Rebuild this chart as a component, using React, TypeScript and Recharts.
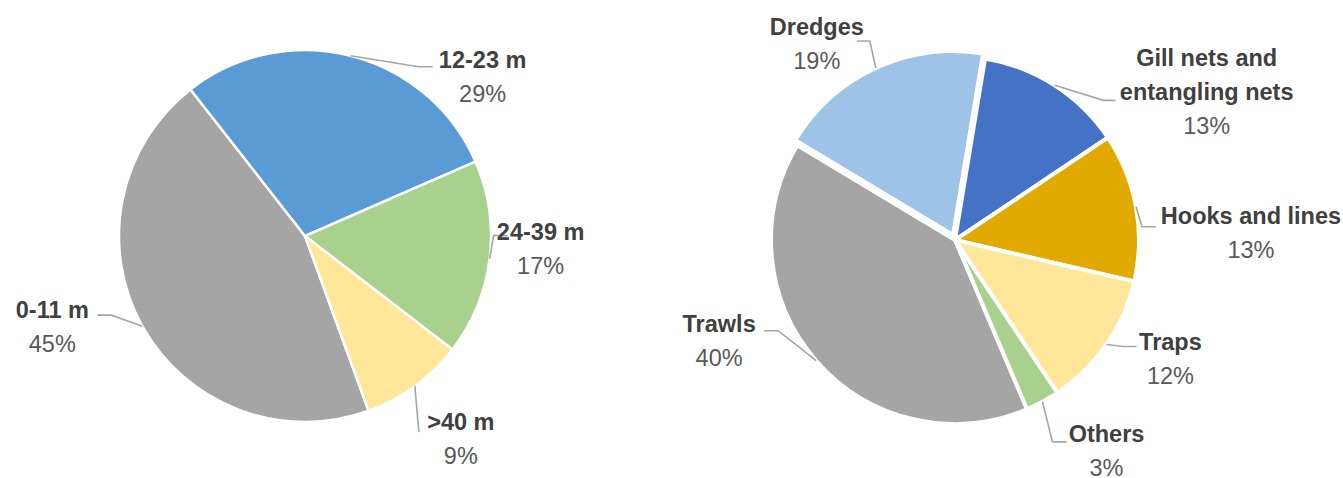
import { PieChart, Pie, Cell } from 'recharts';

// fleet by vessel length
const lengthClasses = ['0-11 m', '12-23 m', '24-39 m', '>40 m'];
const lengthShares = [45, 29, 17, 9];
const lengthColors = ['#A5A5A5', '#5B9BD5', '#A9D18E', '#FFE699'];

// fleet by main fishing gear
const gearTypes = ['Dredges', 'Gill nets and\nentangling nets', 'Hooks and lines', 'Traps', 'Others', 'Trawls'];
const gearShares = [19, 13, 13, 12, 3, 40];
const gearColors = ['#9DC3E6', '#4472C4', '#E2AA00', '#FFE699', '#A9D18E', '#A5A5A5'];

const lengthData = lengthClasses.map((name, i) => ({ name, value: lengthShares[i] }));
const gearData = gearTypes.map((name, i) => ({ name, value: gearShares[i] }));

// label placement relative to the point where the slice's mid angle meets the rim
// n = centre of first text line, e = end of leader line, elbow = horizontal bit of leader
const LABEL_POS: Record<string, { nx: number; ny: number; ex: number; ey: number; elbow: number }> = {
  '0-11 m': { nx: -90, ny: -16, ex: -45, ey: -11, elbow: -14 },
  '12-23 m': { nx: 132, ny: 4, ex: 82, ey: 11, elbow: 14 },
  '24-39 m': { nx: 51, ny: -27, ex: 18, ey: -23, elbow: 14 },
  '>40 m': { nx: 46, ny: 36, ex: 4, ey: 46, elbow: 0 },
  Dredges: { nx: -59, ny: -41, ex: -19, ey: -27, elbow: -13 },
  'Gill nets and\nentangling nets': { nx: 152, ny: -27, ex: 61, ey: 15, elbow: 12 },
  'Hooks and lines': { nx: 115, ny: 9, ex: 20, ey: 20, elbow: 14 },
  Traps: { nx: 64, ny: -2, ex: 30, ey: 2, elbow: 13 },
  Others: { nx: 64, ny: 32, ex: 24, ey: 40, elbow: 14 },
  Trawls: { nx: -97, ny: -37, ex: -52, ey: -30, elbow: -14 },
};

const FONT = '"Liberation Sans", Arial, sans-serif';
const LINE_H = 34;
const RAD = Math.PI / 180;
const EXPLODED = 'Dredges';

function makeLabel(show: (name: string) => boolean) {
  return (p: any) => {
    const name: string = p.payload?.name ?? p.name;
    if (!show(name)) return null;
    const pos = LABEL_POS[name];
    if (!pos) return null;
    const ax = p.cx + p.outerRadius * Math.cos(-p.midAngle * RAD);
    const ay = p.cy + p.outerRadius * Math.sin(-p.midAngle * RAD);
    const ex = ax + pos.ex;
    const ey = ay + pos.ey;
    const lines = name.split('\n');
    const tx = ax + pos.nx;
    const ty = ay + pos.ny;
    return (
      <g key={name}>
        <polyline
          points={`${ax},${ay} ${ex - pos.elbow},${ey} ${ex},${ey}`}
          fill="none"
          stroke="#A6A6A6"
          strokeWidth={1.6}
        />
        {lines.map((ln, i) => (
          <text key={i} x={tx} y={ty + i * LINE_H} textAnchor="middle" dominantBaseline="central"
            fontFamily={FONT} fontSize={23.5} fontWeight="bold" fill="#404040">{ln}</text>
        ))}
        <text x={tx} y={ty + lines.length * LINE_H} textAnchor="middle" dominantBaseline="central"
          fontFamily={FONT} fontSize={23.5} fill="#595959">{`${p.value}%`}</text>
      </g>
    );
  };
}

export default function App() {
  return (
    <div style={{ position: 'absolute', left: 0, top: 0, width: 1343, height: 478, background: '#fff' }}>
      <PieChart width={1343} height={478} margin={{ top: 0, right: 0, bottom: 0, left: 0 }}>
        <Pie data={lengthData} dataKey="value" nameKey="name" cx={305} cy={236} outerRadius={186}
          startAngle={-70} endAngle={-430} stroke="#fff" strokeWidth={2.5}
          labelLine={false} label={makeLabel(() => true)} isAnimationActive={false}>
          {lengthData.map((d, i) => <Cell key={d.name} fill={lengthColors[i]} />)}
        </Pie>
        <Pie data={gearData} dataKey="value" nameKey="name" cx={955} cy={240} outerRadius={184}
          startAngle={-211} endAngle={-571} strokeWidth={4}
          labelLine={false} label={makeLabel((n) => n !== EXPLODED)} isAnimationActive={false}>
          {gearData.map((d, i) => (
            <Cell key={d.name} fill={d.name === EXPLODED ? 'none' : gearColors[i]}
              stroke={d.name === EXPLODED ? 'none' : '#fff'} />
          ))}
        </Pie>
        {/* the dredges slice is pulled out a little */}
        <Pie data={gearData} dataKey="value" nameKey="name" cx={953} cy={235} outerRadius={184}
          startAngle={-211} endAngle={-571} strokeWidth={4}
          labelLine={false} label={makeLabel((n) => n === EXPLODED)} isAnimationActive={false}>
          {gearData.map((d, i) => (
            <Cell key={d.name} fill={d.name === EXPLODED ? gearColors[i] : 'none'}
              stroke={d.name === EXPLODED ? '#fff' : 'none'} />
          ))}
        </Pie>
      </PieChart>
    </div>
  );
}
